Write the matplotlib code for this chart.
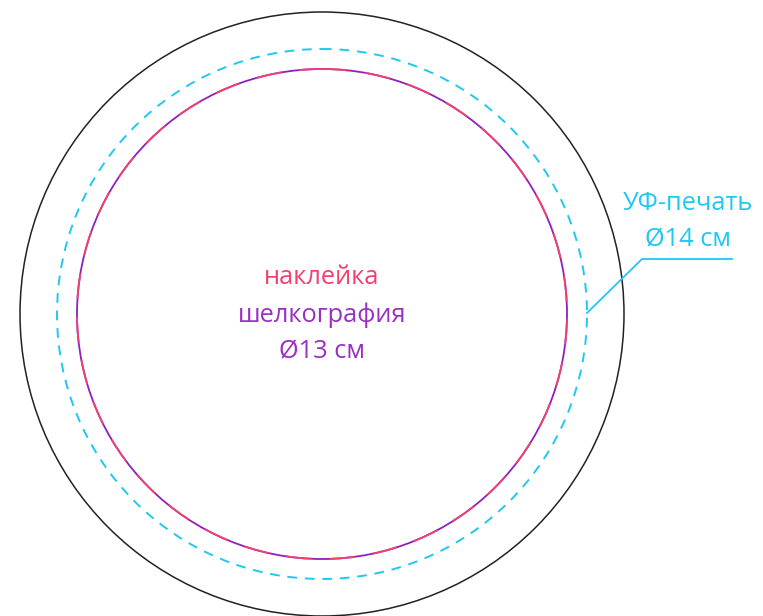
import matplotlib.pyplot as plt
from matplotlib.patches import Circle

# circles: (radius px, colour, style)
center = (322, 314)
r_outer = 302
r_uv = 265
r_inner = 245

labels_inner = ["наклейка", "шелкография", "Ø13 см"]
colors_inner = ["#f2406e", "#9a2fc4", "#9a2fc4"]
labels_uv = ["УФ-печать", "Ø14 см"]

pink = "#f2406e"
purple = "#8e1fc0"
cyan = "#1fc8f2"

plt.rcParams['font.family'] = ['Open Sans', 'DejaVu Sans']

fig = plt.figure(figsize=(7.63, 6.16), dpi=100)
ax = fig.add_axes([0, 0, 1, 1])
ax.set_xlim(0, 763)
ax.set_ylim(616, 0)
ax.set_aspect('equal')
ax.axis('off')

ax.add_patch(Circle(center, r_outer, fill=False, ec="#222222", lw=1.1))
ax.add_patch(Circle(center, r_uv, fill=False, ec=cyan, lw=1.4, ls=(0, (5, 4))))
ax.add_patch(Circle(center, r_inner, fill=False, ec=purple, lw=1.3))
ax.add_patch(Circle(center, r_inner, fill=False, ec=pink, lw=1.3, ls=(0, (14, 10))))

# text in the middle
for i, (t, c) in enumerate(zip(labels_inner, colors_inner)):
    ax.text(center[0], 278 + i * 37, t, color=c, fontsize=18.3,
            ha='center', va='center')

# UV label with leader line
ax.text(688, 204, labels_uv[0], color=cyan, fontsize=18.3, ha='center', va='center')
ax.text(688, 240, labels_uv[1], color=cyan, fontsize=18.3, ha='center', va='center')
ax.plot([587, 642, 732], [313, 259, 259], color=cyan, lw=1.3)

fig.savefig('out.png', dpi=100)
